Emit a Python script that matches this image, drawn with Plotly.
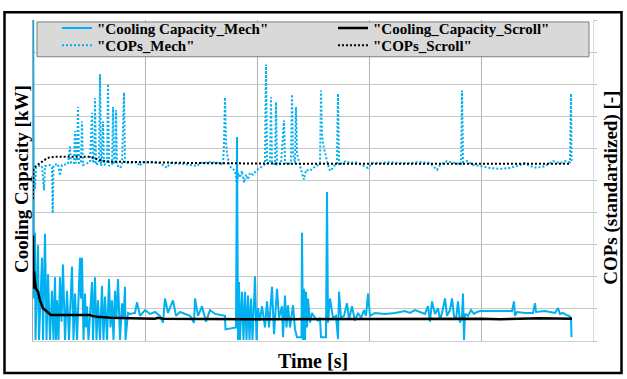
import plotly.graph_objects as go

# ---------------- data (time [s], value) ----------------
cap_mech_points = [
    [0, 40], [10, 4.4], [20, 11.2], [25, 0.1], [50, 9.9], [60, 0.1], [90, 8.6], [100, 0.1],
    [120, 11.1], [135, 0.1], [150, 6.9], [170, 0.1], [190, 5.2], [205, 0.1], [220, 6.6],
    [230, 0.1], [240, 4.2], [255, 0.1], [270, 6.6], [285, 2.0], [300, 7.9], [320, 0.1],
    [340, 5.2], [360, 0.1], [390, 7.7], [405, 0.1], [420, 4.9], [440, 0.1], [470, 8.6],
    [480, 4.4], [490, 8.6], [505, 0.1], [520, 4.9], [530, 1.4], [540, 3.6], [555, 0.1],
    [590, 6.1], [600, 0.1], [620, 6.6], [635, 0.1], [650, 4.2], [670, 0.1], [690, 5.7],
    [705, 0.1], [720, 4.6], [740, 0.1], [760, 6.4], [775, 1.4], [790, 4.2], [805, 0.1],
    [820, 5.2], [835, 2.4], [850, 6.4], [870, 0.1], [890, 3.9], [905, 2.4], [920, 5.6],
    [925, 0.1], [950, 2.9], [970, 2.8], [1020, 2.9], [1040, 4.0], [1070, 2.6], [1120, 3.2],
    [1170, 2.8], [1220, 3.0], [1270, 2.6], [1300, 1.9], [1320, 4.4], [1350, 2.9], [1400, 4.2],
    [1430, 2.6], [1470, 3.0], [1520, 2.8], [1570, 2.6], [1610, 1.9], [1620, 4.4], [1650, 2.6],
    [1690, 3.6], [1730, 2.0], [1770, 3.2], [1820, 2.8], [1870, 2.7], [1920, 2.6], [1925, 1.2],
    [2000, 1.3], [2030, 1.4], [2040, 21.1], [2050, 0.1], [2060, 6.1], [2070, 0.1], [2090, 5.1],
    [2105, 0.1], [2120, 5.1], [2135, 0.1], [2150, 4.7], [2165, 0.1], [2180, 4.4], [2195, 0.1],
    [2220, 6.7], [2235, 0.1], [2250, 3.4], [2270, 2.1], [2290, 3.6], [2320, 1.4], [2340, 4.1],
    [2360, 1.4], [2390, 5.6], [2410, 0.7], [2440, 5.4], [2460, 2.4], [2490, 3.6], [2500, 0.4],
    [2520, 4.7], [2535, 1.4], [2550, 3.7], [2570, 1.4], [2600, 3.7], [2620, 1.2], [2640, 0.4],
    [2685, 0.4], [2690, 11.2], [2700, 0.1], [2710, 5.4], [2720, 0.1], [2730, 5.1], [2740, 1.4],
    [2750, 4.4], [2770, 1.9], [2790, 2.9], [2820, 2.4], [2850, 2.1], [2870, 2.4], [2880, 0.4],
    [2930, 0.4], [2940, 15.4], [2950, 1.9], [2970, 4.4], [3000, 2.4], [3030, 2.6], [3050, 0.2],
    [3060, 5.1], [3080, 2.4], [3110, 2.6], [3140, 3.9], [3160, 2.2], [3190, 3.6], [3220, 2.1],
    [3250, 2.9], [3280, 2.4], [3310, 3.2], [3330, 2.6], [3350, 4.9], [3370, 2.6], [3420, 2.9],
    [3520, 2.8], [3620, 2.9], [3720, 3.1], [3770, 2.9], [3820, 3.2], [3870, 3.0], [3920, 2.8],
    [3950, 3.6], [3970, 2.0], [3990, 4.1], [4020, 2.8], [4050, 3.4], [4070, 2.2], [4090, 2.9],
    [4120, 4.4], [4140, 2.6], [4170, 3.2], [4190, 4.4], [4210, 2.6], [4230, 2.2], [4250, 4.1],
    [4270, 1.9], [4290, 2.6], [4300, 4.9], [4310, 0.1], [4320, 2.8], [4350, 2.6], [4380, 3.2],
    [4410, 2.8], [4440, 3.0], [4470, 3.1], [4570, 3.1], [4670, 3.1], [4790, 3.1], [4810, 4.1],
    [4820, 2.6], [4840, 3.0], [4920, 2.9], [5000, 2.9], [5020, 3.9], [5030, 3.0], [5120, 3.1],
    [5170, 3.0], [5220, 2.9], [5250, 3.4], [5270, 2.8], [5300, 2.9], [5330, 2.7], [5360, 2.6],
    [5380, 2.4], [5385, 0.4],
]

cap_scroll_points = [
    [0, 10.9], [5, 5.4], [10, 7.2], [20, 6.1], [30, 5.4], [50, 5.1], [70, 4.2], [100, 3.4],
    [140, 3.0], [180, 2.7], [570, 2.7], [590, 2.6], [640, 2.5], [770, 2.4], [970, 2.35],
    [1220, 2.3], [1250, 2.4], [1300, 2.3], [2170, 2.25], [3170, 2.3], [3820, 2.33],
    [4470, 2.3], [4670, 2.25], [4870, 2.3], [5070, 2.35], [5390, 2.3],
]

cop_mech_points = [
    [0, 1.54], [10, 1.76], [20, 1.57], [30, 1.79], [50, 1.81], [90, 1.81], [110, 1.56],
    [120, 1.81], [170, 1.82], [190, 1.79], [197, 1.32], [205, 1.82], [250, 1.83], [270, 1.71],
    [290, 1.82], [350, 1.83], [370, 2.01], [380, 1.84], [410, 1.84], [420, 2.17], [430, 1.84],
    [440, 1.86], [450, 2.42], [460, 1.84], [480, 1.84], [490, 2.27], [500, 1.82], [530, 1.83],
    [570, 1.85], [590, 2.36], [600, 1.84], [615, 1.86], [620, 2.51], [630, 1.82], [660, 1.84],
    [670, 2.76], [680, 1.81], [690, 1.86], [700, 2.27], [710, 1.82], [740, 1.84], [750, 2.66],
    [760, 1.81], [790, 1.83], [800, 2.42], [810, 1.84], [825, 1.84], [830, 2.39], [840, 1.82],
    [870, 1.79], [890, 1.82], [910, 2.57], [920, 1.84], [970, 1.84], [1040, 1.85], [1070, 1.81],
    [1090, 1.85], [1170, 1.85], [1270, 1.84], [1340, 1.79], [1370, 1.84], [1520, 1.83],
    [1640, 1.81], [1670, 1.84], [1770, 1.85], [1870, 1.84], [1900, 1.82], [1910, 2.04],
    [1920, 2.52], [1930, 2.07], [1940, 1.94], [1960, 1.84], [1980, 1.79], [2010, 1.77],
    [2030, 1.72], [2040, 1.59], [2050, 1.74], [2070, 1.69], [2090, 1.76], [2110, 1.64],
    [2130, 1.72], [2150, 1.67], [2170, 1.74], [2200, 1.72], [2230, 1.76], [2270, 1.79],
    [2300, 1.82], [2320, 1.83], [2330, 2.86], [2340, 1.84], [2370, 1.84], [2380, 2.52],
    [2390, 1.84], [2420, 1.83], [2430, 2.47], [2440, 1.83], [2460, 1.84], [2480, 1.83],
    [2510, 2.28], [2520, 1.84], [2550, 1.83], [2580, 1.84], [2590, 2.55], [2600, 1.94],
    [2620, 1.84], [2630, 2.42], [2640, 1.94], [2660, 1.84], [2680, 1.77], [2710, 1.67],
    [2730, 1.77], [2770, 1.76], [2800, 1.79], [2840, 1.81], [2870, 1.84], [2880, 2.59],
    [2890, 2.14], [2900, 2.04], [2920, 1.94], [2940, 1.86], [2970, 1.76], [3000, 1.79],
    [3030, 1.84], [3040, 1.84], [3050, 2.56], [3060, 1.82], [3090, 1.84], [3130, 1.86],
    [3170, 1.84], [3220, 1.85], [3270, 1.83], [3350, 1.79], [3390, 1.84], [3470, 1.84],
    [3570, 1.85], [3670, 1.84], [3770, 1.84], [3870, 1.85], [3970, 1.84], [4040, 1.77],
    [4070, 1.82], [4140, 1.86], [4220, 1.84], [4280, 1.83], [4290, 2.59], [4300, 1.85],
    [4340, 1.86], [4400, 1.82], [4470, 1.81], [4570, 1.79], [4670, 1.78], [4770, 1.79],
    [4870, 1.82], [4920, 1.84], [4970, 1.81], [5040, 1.79], [5120, 1.81], [5200, 1.86],
    [5270, 1.84], [5330, 1.86], [5370, 1.85], [5380, 2.56], [5385, 1.84],
]

cop_scroll_points = [
    [0, 1.47], [3, 1.77], [30, 1.81], [70, 1.84], [100, 1.86], [140, 1.89], [170, 1.90],
    [220, 1.905], [570, 1.905], [620, 1.89], [670, 1.87], [770, 1.855], [970, 1.85],
    [1670, 1.84], [2670, 1.833], [5370, 1.833],
]

series_names = ['"Cooling Capacity_Mech"', '"Cooling_Capacity_Scroll"',
                '"COPs_Mech"', '"COPs_Scroll"']
axis_titles = ["Time [s]", "Cooling Capacity [kW]", "COPs (standardized) [-]"]


def split(points):
    return [p[0] for p in points], [p[1] for p in points]


BLUE = "#00B0F0"
FONT = "Liberation Serif"

fig = go.Figure()
x, y = split(cap_mech_points)
fig.add_trace(go.Scatter(x=x, y=y, mode="lines", name=series_names[0], legend="legend",
                         line=dict(color=BLUE, width=2)))
x, y = split(cap_scroll_points)
fig.add_trace(go.Scatter(x=x, y=y, mode="lines", name=series_names[1], legend="legend",
                         line=dict(color="black", width=2.5)))
x, y = split(cop_mech_points)
fig.add_trace(go.Scatter(x=x, y=y, mode="lines", name=series_names[2], yaxis="y2",
                         legend="legend2",
                         line=dict(color=BLUE, width=2, dash="2px,2px")))
x, y = split(cop_scroll_points)
fig.add_trace(go.Scatter(x=x, y=y, mode="lines", name=series_names[3], yaxis="y2",
                         legend="legend2",
                         line=dict(color="black", width=2, dash="2px,2px")))


def tfont(size):
    return dict(family=FONT, size=size, color="black", weight="bold")


def legend_row(center_py):
    return dict(orientation="h", x=(57 - 33) / 560, y=(344 - center_py) / 332,
                xanchor="left", yanchor="middle",
                entrywidth=231, bgcolor="rgba(0,0,0,0)", borderwidth=0,
                font=dict(family=FONT, size=15, color="black", weight="bold"),
                itemwidth=30, traceorder="normal")


fig.update_layout(
    width=627, height=379,
    margin=dict(l=33, r=34, t=12, b=35),
    paper_bgcolor="white", plot_bgcolor="white",
    showlegend=True,
    xaxis=dict(range=[0, 5600], tick0=0, dtick=1120, showticklabels=False,
               showgrid=True, gridcolor="#B4B4B4", gridwidth=1, zeroline=False,
               showline=True, linecolor="#D0D0D0", ticks="",
               title=dict(text=axis_titles[0], font=tfont(20), standoff=12)),
    yaxis=dict(range=[0, 33.2], tick0=0, dtick=3.32, showticklabels=False,
               showgrid=True, gridcolor="#C8C8C8", gridwidth=1, zeroline=False,
               showline=True, linecolor="#A6A6A6", ticks=""),
    yaxis2=dict(range=[0, 3.32], tick0=0, dtick=0.332, overlaying="y", side="right",
                showticklabels=False, showgrid=False, zeroline=False,
                showline=True, linecolor="#D9D9D9", ticks="outside", ticklen=3,
                tickcolor="#BFBFBF"),
    legend=legend_row(20.5),
    legend2=legend_row(38.5),
    annotations=[
        dict(text=axis_titles[1], xref="paper", yref="paper",
             x=(21 - 33) / 560, y=(344 - 176.5) / 332, xanchor="center", yanchor="middle",
             textangle=-90, showarrow=False, font=tfont(19)),
        dict(text=axis_titles[2], xref="paper", yref="paper",
             x=(611 - 33) / 560, y=(344 - 185.5) / 332, xanchor="center", yanchor="middle",
             textangle=-90, showarrow=False, font=tfont(19)),
    ],
    shapes=[
        dict(type="rect", xref="paper", yref="paper",
             x0=(37 - 33) / 560, x1=(589 - 33) / 560,
             y0=(344 - 50) / 332, y1=(344 - 14) / 332,
             fillcolor="#D9D9D9", line=dict(color="#7F7F7F", width=1), layer="above"),
        dict(type="rect", xref="paper", yref="paper",
             x0=(4.5 - 33) / 560, x1=(621.5 - 33) / 560,
             y0=(344 - 377) / 332, y1=(344 - 4) / 332,
             fillcolor="rgba(0,0,0,0)", line=dict(color="black", width=2.5), layer="above"),
    ],
)

fig.write_html("out.html")
